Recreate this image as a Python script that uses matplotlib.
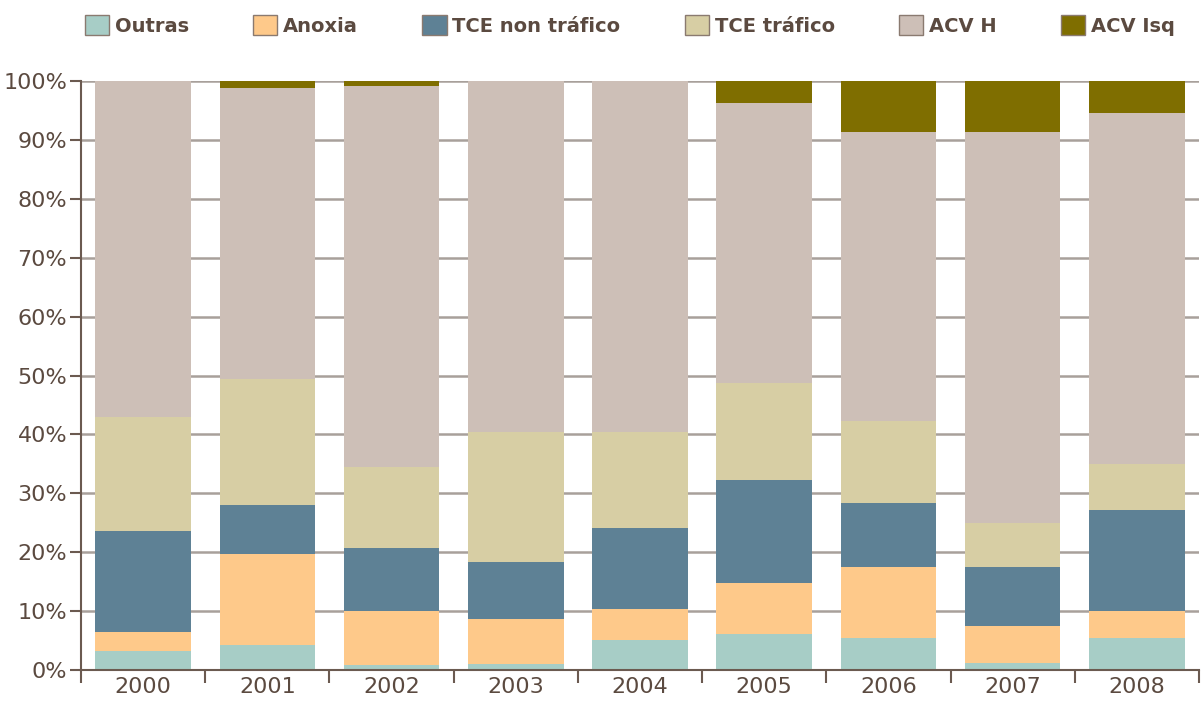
import numpy as np
import matplotlib.pyplot as plt
from matplotlib.patches import Patch

years = ['2000', '2001', '2002', '2003', '2004', '2005', '2006', '2007', '2008']
series_names = ['Outras', 'Anoxia', 'TCE non tráfico', 'TCE tráfico', 'ACV H', 'ACV Isq']

outras = [3.2, 4.2, 0.8, 1.0, 5.1, 6.1, 5.4, 1.2, 5.4]
anoxia = [3.3, 15.5, 9.2, 7.7, 5.3, 8.7, 12.1, 6.3, 4.6]
tce_non_trafico = [17.1, 8.3, 10.7, 9.6, 13.7, 17.5, 10.9, 10.0, 17.2]
tce_trafico = [19.4, 21.4, 13.8, 22.1, 16.3, 16.4, 13.9, 7.5, 7.8]
acv_h = [57.0, 49.4, 64.6, 59.6, 59.6, 47.6, 49.0, 66.3, 59.6]
acv_isq = [0.0, 1.2, 0.9, 0.0, 0.0, 3.7, 8.7, 8.7, 5.4]

colors = ['#a7cdc6', '#fec98a', '#5e8195', '#d7cea4', '#cdbfb7', '#7f6e00']
txt = '#5b4a40'

series = [outras, anoxia, tce_non_trafico, tce_trafico, acv_h, acv_isq]

fig = plt.figure(figsize=(12.02, 7.02), dpi=100)
ax = fig.add_axes([81 / 1202, 1 - 670 / 702, 1118 / 1202, 589 / 702])

x = np.arange(len(years))
bottom = np.zeros(len(years))
for vals, col, name in zip(series, colors, series_names):
    vals = np.array(vals)
    ax.bar(x, vals, bottom=bottom, width=0.77, color=col, label=name, zorder=2, linewidth=0)
    bottom += vals

ax.set_xlim(-0.5, len(years) - 0.5)
ax.set_ylim(0, 100)
ax.set_yticks(np.arange(0, 101, 10))
ax.set_yticklabels([f'{v}%' for v in range(0, 101, 10)])
ax.set_xticks(x)
ax.set_xticklabels(years)
ax.set_xticks(np.arange(-0.5, len(years), 1), minor=True)
ax.tick_params(axis='x', which='major', length=0, pad=5, labelsize=16, labelcolor=txt)
ax.tick_params(axis='x', which='minor', length=9, width=1.5, color='#6b5a50')
ax.tick_params(axis='y', length=8, width=1.5, color='#6b5a50', labelsize=16, labelcolor=txt, pad=2)

ax.yaxis.grid(True, color='#a8a09b', linewidth=1.8, zorder=0)
ax.set_axisbelow(True)
for s in ['top', 'right']:
    ax.spines[s].set_visible(False)
for s in ['left', 'bottom']:
    ax.spines[s].set_color('#6b5a50')
    ax.spines[s].set_linewidth(1.5)

handles = [Patch(facecolor=c, edgecolor='#8a7a70', linewidth=1) for c in colors]
leg = fig.legend(handles, series_names, loc='upper left', bbox_to_anchor=(75 / 1202, 1 - 5 / 702),
                 ncol=6, frameon=False, handlelength=1.25, handleheight=1.25, handletextpad=0.3,
                 columnspacing=3.3, borderpad=0.3, borderaxespad=0.2,
                 prop={'weight': 'bold', 'size': 14})
for t in leg.get_texts():
    t.set_color(txt)

fig.savefig('out.png', dpi=100)
